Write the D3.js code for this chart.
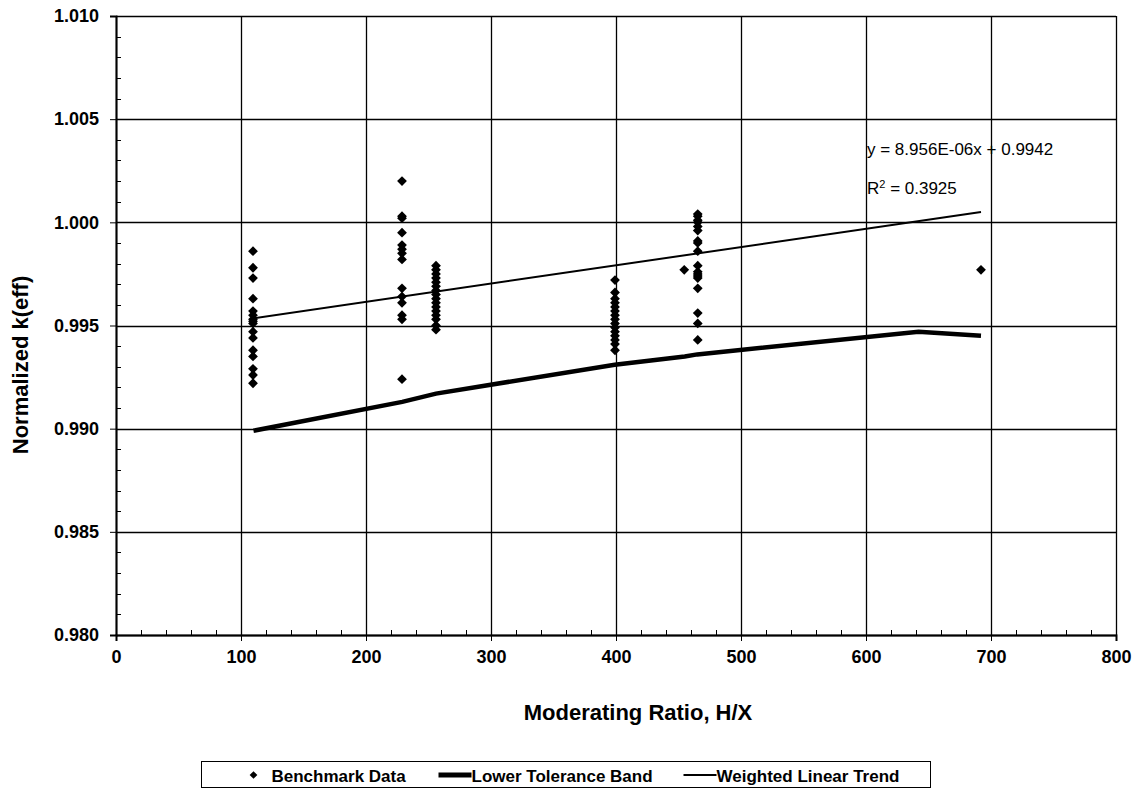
<!DOCTYPE html>
<html>
<head>
<meta charset="utf-8">
<script src="https://cdn.jsdelivr.net/npm/d3@7"></script>
<style>
  body { margin: 0; background: #fff; }
  text { font-family: "Liberation Sans", Arial, sans-serif; fill: #000; }
  .tick text { font-size: 18px; font-weight: bold; }
</style>
</head>
<body>
<div id="chart"></div>
<script>
// benchmark points, grouped by moderating ratio
var benchX = [109.6, 228.8, 256, 399.2, 454.6, 465.4, 692];
var benchK = [
    [0.9986, 0.9978, 0.9973, 0.9963, 0.9957, 0.9955, 0.9953, 0.9952, 0.9951, 0.9947, 0.9944, 0.9938, 0.9935, 0.9929, 0.9926, 0.9922],
    [1.0020, 1.0003, 1.0002, 0.9995, 0.9989, 0.9987, 0.9985, 0.9982, 0.9968, 0.9964, 0.9961, 0.9955, 0.9953, 0.9924],
    [0.9979, 0.9977, 0.9975, 0.9973, 0.9971, 0.9969, 0.9967, 0.9965, 0.9963, 0.9961, 0.9959, 0.9957, 0.9955, 0.9953, 0.9950, 0.9948],
    [0.9972, 0.9966, 0.9963, 0.9961, 0.9959, 0.9957, 0.9955, 0.9953, 0.9951, 0.9949, 0.9947, 0.9945, 0.9943, 0.9941, 0.9938],
    [0.9977],
    [1.0004, 1.0003, 1.0001, 1.0000, 0.9998, 0.9996, 0.9991, 0.9990, 0.9986, 0.9979, 0.9976, 0.9975, 0.9974, 0.9973, 0.9968, 0.9956, 0.9951, 0.9943],
    [0.9977]
];

// lower tolerance band
var bandX = [110, 229, 256, 399, 455, 465, 642, 692];
var bandK = [0.9899, 0.9913, 0.9917, 0.9931, 0.9935, 0.9936, 0.9947, 0.9945];

// weighted linear trend (end points)
var trendX = [110, 692];
var trendK = [0.99535, 1.0005];

var xTicks = [0, 100, 200, 300, 400, 500, 600, 700, 800];
var yTicks = [0.980, 0.985, 0.990, 0.995, 1.000, 1.005, 1.010];
var eqLabel = "y = 8.956E-06x + 0.9942";
var r2Label = "0.3925";

var svgWidth = 1136, svgHeight = 789;
var margin = { top: 16, left: 116, right: 20, bottom: 154 };
var chartWidth = svgWidth - margin.left - margin.right;
var chartHeight = svgHeight - margin.top - margin.bottom;

var svg = d3.select("#chart").append("svg")
    .attr("width", svgWidth)
    .attr("height", svgHeight);

var chartGroup = svg.append("g")
    .attr("transform", `translate(${margin.left}, ${margin.top})`);

var xScale = d3.scaleLinear().domain([0, 800]).range([0, chartWidth]);
var yScale = d3.scaleLinear().domain([0.980, 1.010]).range([chartHeight, 0]);

// gridlines
chartGroup.append("g").selectAll("line")
    .data(yTicks).enter().append("line")
    .attr("x1", 0).attr("x2", chartWidth)
    .attr("y1", d => Math.round(yScale(d)) + 0.5)
    .attr("y2", d => Math.round(yScale(d)) + 0.5)
    .attr("stroke", "#000").attr("stroke-width", 1.3);

chartGroup.append("g").selectAll("line")
    .data(xTicks).enter().append("line")
    .attr("y1", 0).attr("y2", chartHeight)
    .attr("x1", d => Math.round(xScale(d)) + 0.5)
    .attr("x2", d => Math.round(xScale(d)) + 0.5)
    .attr("stroke", "#000").attr("stroke-width", 1.3);

// minor ticks (inside)
var xMinor = d3.range(0, 801, 20).filter(d => d % 100 !== 0);
var yMinor = d3.range(0, 31).map(i => 0.980 + i * 0.001).filter((d, i) => i % 5 !== 0);

chartGroup.append("g").selectAll("line")
    .data(xMinor).enter().append("line")
    .attr("x1", d => Math.round(xScale(d)) + 0.5)
    .attr("x2", d => Math.round(xScale(d)) + 0.5)
    .attr("y1", chartHeight).attr("y2", chartHeight - 5)
    .attr("stroke", "#000");

chartGroup.append("g").selectAll("line")
    .data(yMinor).enter().append("line")
    .attr("y1", d => Math.round(yScale(d)) + 0.5)
    .attr("y2", d => Math.round(yScale(d)) + 0.5)
    .attr("x1", 0).attr("x2", 5)
    .attr("stroke", "#000");

// axes
var xAxis = d3.axisBottom(xScale).tickValues(xTicks).tickSize(6).tickPadding(9)
    .tickFormat(d3.format("d"));
var yAxis = d3.axisLeft(yScale).tickValues(yTicks).tickSize(6).tickPadding(11)
    .tickFormat(d3.format(".3f"));

chartGroup.append("g")
    .attr("transform", `translate(0, ${chartHeight})`)
    .call(xAxis);

chartGroup.append("g")
    .call(yAxis);

chartGroup.selectAll(".domain").attr("stroke", "#000").attr("stroke-width", 2);
chartGroup.selectAll(".tick line").attr("stroke", "#000");

// plot border
chartGroup.append("rect")
    .attr("x", 0.5).attr("y", 0.5)
    .attr("width", chartWidth).attr("height", chartHeight)
    .attr("fill", "none").attr("stroke", "#000");

// lower tolerance band
var line = d3.line()
    .x(d => xScale(d[0]))
    .y(d => yScale(d[1]));

chartGroup.append("path")
    .datum(d3.zip(bandX, bandK))
    .attr("d", line)
    .attr("fill", "none")
    .attr("stroke", "#000")
    .attr("stroke-width", 4.5);

// trend line
chartGroup.append("path")
    .datum(d3.zip(trendX, trendK))
    .attr("d", line)
    .attr("fill", "none")
    .attr("stroke", "#000")
    .attr("stroke-width", 2);

// benchmark diamonds
var points = [];
benchX.forEach(function(x, i) {
    benchK[i].forEach(function(k) { points.push([x, k]); });
});

var diamond = d3.symbol().type(d3.symbolSquare).size(48);

chartGroup.selectAll(".pt")
    .data(points).enter().append("path")
    .attr("class", "pt")
    .attr("d", diamond)
    .attr("transform", d => `translate(${xScale(d[0])}, ${yScale(d[1])}) rotate(45)`)
    .attr("fill", "#000");

// regression labels
chartGroup.append("text")
    .attr("x", xScale(600) + 1)
    .attr("y", 139)
    .style("font-size", "17px")
    .text(eqLabel);

var r2 = chartGroup.append("text")
    .attr("x", xScale(600) + 1)
    .attr("y", 178)
    .style("font-size", "17px");
r2.append("tspan").text("R");
r2.append("tspan").attr("dy", -6).style("font-size", "11px").text("2");
r2.append("tspan").attr("dy", 6).text(" = " + r2Label);

// axis titles
svg.append("text")
    .attr("transform", "rotate(-90)")
    .attr("x", -365)
    .attr("y", 28)
    .attr("text-anchor", "middle")
    .style("font-size", "22px")
    .style("font-weight", "bold")
    .text("Normalized k(eff)");

svg.append("text")
    .attr("x", 638)
    .attr("y", 720)
    .attr("text-anchor", "middle")
    .style("font-size", "22px")
    .style("font-weight", "bold")
    .text("Moderating Ratio, H/X");

// legend
var legend = svg.append("g").attr("transform", "translate(201.5, 761.5)");
legend.append("rect")
    .attr("width", 729).attr("height", 26)
    .attr("fill", "#fff").attr("stroke", "#000");

legend.append("path")
    .attr("d", d3.symbol().type(d3.symbolSquare).size(30))
    .attr("transform", "translate(52, 13.5) rotate(45)")
    .attr("fill", "#000");
legend.append("text").attr("x", 70).attr("y", 20)
    .style("font-size", "17px").style("font-weight", "bold")
    .text("Benchmark Data");

legend.append("line")
    .attr("x1", 237).attr("x2", 270).attr("y1", 13.5).attr("y2", 13.5)
    .attr("stroke", "#000").attr("stroke-width", 5);
legend.append("text").attr("x", 270).attr("y", 20)
    .style("font-size", "17px").style("font-weight", "bold")
    .text("Lower Tolerance Band");

legend.append("line")
    .attr("x1", 482).attr("x2", 515).attr("y1", 13.5).attr("y2", 13.5)
    .attr("stroke", "#000").attr("stroke-width", 2);
legend.append("text").attr("x", 515).attr("y", 20)
    .style("font-size", "17px").style("font-weight", "bold")
    .text("Weighted Linear Trend");
</script>
</body>
</html>
